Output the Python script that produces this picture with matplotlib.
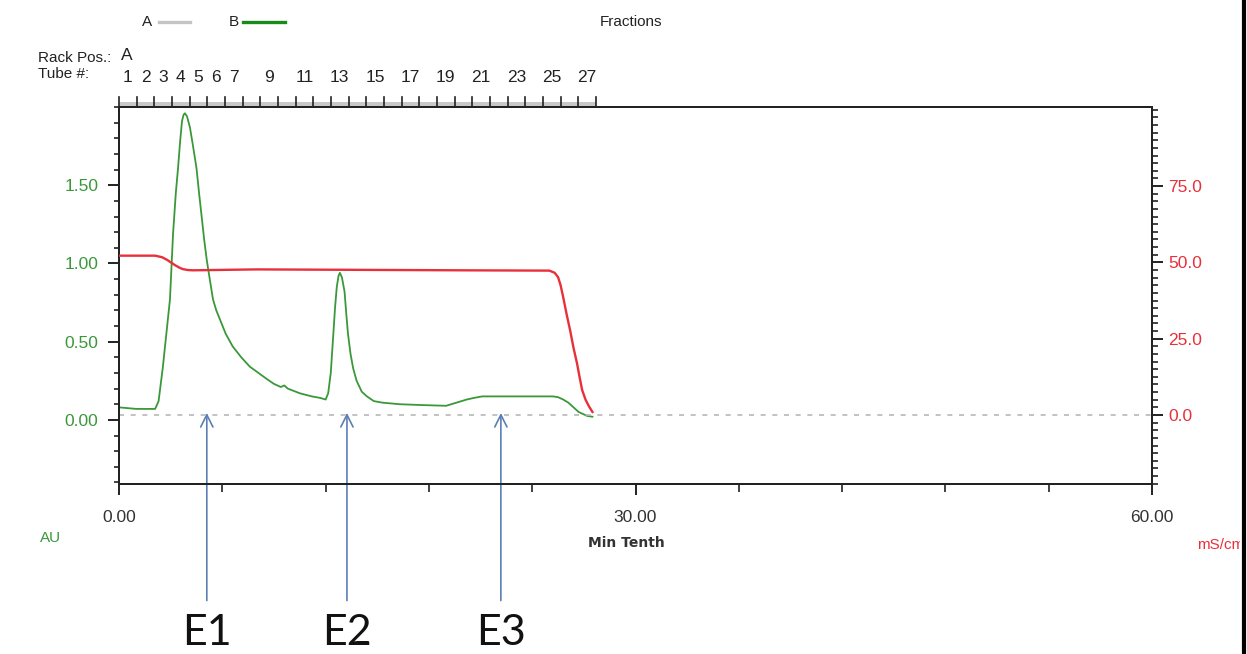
import numpy as np
import matplotlib
matplotlib.use('Agg')
import matplotlib.pyplot as plt
from matplotlib.lines import Line2D
from matplotlib.patches import Rectangle
from matplotlib.ticker import MultipleLocator, FixedLocator

# UV absorbance (AU) trace, time in Min Tenth
uv_time = [0.0, 1.0, 2.1, 2.3, 2.55, 2.75, 2.96, 3.14, 3.3, 3.43, 3.55, 3.66, 3.75,
           3.83, 3.95, 4.12, 4.3, 4.5, 4.65, 4.8, 4.95, 5.1, 5.3, 5.46, 5.65, 5.87,
           6.2, 6.6, 7.1, 7.6, 8.1, 8.6, 9.0, 9.4, 9.6, 9.8, 10.5, 11.2, 11.7, 12.0,
           12.15, 12.3, 12.45, 12.55, 12.65, 12.75, 12.83, 12.95, 13.1, 13.2, 13.3,
           13.45, 13.6, 13.8, 14.1, 14.4, 14.8, 15.3, 16.3, 17.5, 19.0, 19.6, 20.2,
           20.6, 21.1, 23.0, 25.2, 25.5, 25.8, 26.1, 26.4, 26.7, 26.9, 27.2, 27.5]
uv_au = [0.08, 0.07, 0.07, 0.12, 0.34, 0.55, 0.77, 1.19, 1.45, 1.61, 1.78, 1.91, 1.95,
         1.96, 1.94, 1.87, 1.75, 1.61, 1.45, 1.30, 1.15, 1.02, 0.88, 0.77, 0.70, 0.64,
         0.55, 0.47, 0.40, 0.34, 0.30, 0.26, 0.23, 0.21, 0.22, 0.20, 0.17, 0.15, 0.14,
         0.13, 0.17, 0.30, 0.55, 0.72, 0.85, 0.92, 0.94, 0.91, 0.82, 0.68, 0.55,
         0.42, 0.33, 0.25, 0.18, 0.15, 0.12, 0.11, 0.10, 0.095, 0.09, 0.11, 0.13,
         0.14, 0.15, 0.15, 0.15, 0.145, 0.13, 0.11, 0.08, 0.05, 0.04, 0.025, 0.02]

# conductivity trace (mS/cm)
cond_time = [0.0, 2.1, 2.5, 2.8, 3.25, 3.5, 3.7, 4.0, 4.3, 8.0, 12.0, 16.0, 20.0,
             25.0, 25.3, 25.5, 25.65, 25.8, 26.0, 26.2, 26.4, 26.6, 26.75, 26.9,
             27.1, 27.3, 27.5]
cond_ms = [52.2, 52.2, 51.7, 50.8, 49.1, 48.3, 47.8, 47.5, 47.4, 47.7, 47.6, 47.5, 47.4,
           47.3, 46.6, 45.2, 42.5, 38.6, 33.0, 27.8, 22.0, 17.0, 12.5, 8.2,
           5.0, 2.8, 1.0]

tube_numbers = list(range(1, 28))
tube_labels_shown = [1, 2, 3, 4, 5, 6, 7, 9, 11, 13, 15, 17, 19, 21, 23, 25, 27]
tube_width = 1.026

peak_names = ['E1', 'E2', 'E3']
peak_times = [5.1, 13.24, 22.18]

W, H = 1247, 654
GREEN = '#3a983a'
RED = '#e8303a'
ARROW = '#5b7fb5'
DARK = '#222222'
FONT = ['Liberation Sans', 'DejaVu Sans']
FS = 12.5

plt.rcParams['font.family'] = FONT
fig = plt.figure(figsize=(W / 100, H / 100), dpi=100)


def fpos(x, y):
    return x / W, 1 - y / H


ax_l, ax_r, ax_t, ax_b = 119, 1152, 107, 484
ax = fig.add_axes([ax_l / W, 1 - ax_b / H, (ax_r - ax_l) / W, (ax_b - ax_t) / H])
ax2 = ax.twinx()

ax.set_xlim(0, 60)
ax.set_ylim(-0.41, 2.0)
ax2.set_ylim(-22.6, 100.9)

ax.plot(uv_time, uv_au, color=GREEN, lw=1.3, zorder=3)
ax2.plot(cond_time, cond_ms, color=RED, lw=1.7, zorder=3)
ax2.axhline(0, color='#b8b8b8', lw=1.2, dashes=(3, 4), zorder=1)

for a in (ax, ax2):
    for s in a.spines.values():
        s.set_color(DARK)
        s.set_linewidth(1.4)

# left axis
ax.yaxis.set_major_locator(FixedLocator([0, 0.5, 1.0, 1.5]))
ax.yaxis.set_minor_locator(MultipleLocator(0.1))
ax.set_yticklabels(['0.00', '0.50', '1.00', '1.50'])
ax.tick_params(axis='y', which='major', length=8, width=1.4, color=DARK,
               labelcolor=GREEN, labelsize=FS, pad=7)
ax.tick_params(axis='y', which='minor', length=3.6, width=1.2, color=DARK)

# right axis
ax2.yaxis.set_major_locator(FixedLocator([0, 25, 50, 75]))
ax2.yaxis.set_minor_locator(MultipleLocator(2.5))
ax2.set_yticklabels(['0.0', '25.0', '50.0', '75.0'])
ax2.tick_params(axis='y', which='major', length=8, width=1.4, color=DARK,
                labelcolor=RED, labelsize=FS, pad=3.5)
ax2.tick_params(axis='y', which='minor', length=4.3, width=1.2, color=DARK)

# bottom axis
ax.xaxis.set_major_locator(FixedLocator([0, 30, 60]))
ax.xaxis.set_minor_locator(MultipleLocator(6))
ax.set_xticklabels(['0.00', '30.00', '60.00'])
ax.tick_params(axis='x', which='major', length=8, width=1.4, color=DARK,
               labelcolor='#333333', labelsize=FS, pad=11)
ax.tick_params(axis='x', which='minor', length=5.8, width=1.2, color=DARK)

# fraction strip above the plot
trans = ax.get_xaxis_transform()
strip_end = tube_width * len(tube_numbers)
h = ax_b - ax_t
ax.add_patch(Rectangle((0, 1.0), strip_end, 5 / h, transform=trans,
                       facecolor='#c8c8c8', edgecolor='none', clip_on=False))
for n in tube_numbers + [tube_numbers[-1] + 1]:
    x = (n - 1) * tube_width
    ax.add_line(Line2D([x, x], [1.0, 1 + 10 / h], transform=trans, color=DARK,
                       lw=1.2, clip_on=False))
ax.add_line(Line2D([0, strip_end], [1.0, 1.0], transform=trans, color=DARK,
                   lw=1.2, clip_on=False))
for n in tube_labels_shown:
    x = (n - 0.5) * tube_width
    ax.text(x, 1 + 29 / h, str(n), transform=trans, ha='center', va='center',
            fontsize=FS, color=DARK)
ax.text(0.1, 1 + 52 / h, 'A', transform=trans, ha='left', va='center',
        fontsize=FS, color=DARK)

# header texts
fig.text(*fpos(38, 58), 'Rack Pos.:', ha='left', va='center', fontsize=11, color=DARK)
fig.text(*fpos(38, 74), 'Tube #:', ha='left', va='center', fontsize=11, color=DARK)
fig.text(*fpos(600, 22), 'Fractions', ha='left', va='center', fontsize=11, color=DARK)
fig.text(*fpos(142, 22), 'A', ha='left', va='center', fontsize=11, color=DARK)
fig.add_artist(Line2D([159 / W, 190 / W], [1 - 22 / H] * 2, color='#c4c4c4', lw=2.4))
fig.text(*fpos(229, 22), 'B', ha='left', va='center', fontsize=11, color=DARK)
fig.add_artist(Line2D([243 / W, 285 / W], [1 - 22 / H] * 2, color='#1a8a1a', lw=2.4))

# axis unit labels
fig.text(*fpos(40, 538), 'AU', ha='left', va='center', fontsize=11, color=GREEN)
fig.text(*fpos(626, 543), 'Min Tenth', ha='center', va='center', fontsize=10,
         family='DejaVu Sans', fontweight='bold', color='#333333')
t = fig.text(*fpos(1197, 545), 'mS/cm', ha='left', va='center', fontsize=11,
             color=RED)
t.set_clip_path(Rectangle((0, 0), 1240 / W, 1, transform=fig.transFigure))

# peak arrows
to_au = lambda y: (420 - y) / 156.7
for name, x in zip(peak_names, peak_times):
    ax.annotate('', xy=(x, to_au(413)), xytext=(x, to_au(601)),
                arrowprops=dict(arrowstyle='->', color=ARROW, lw=1.2,
                                shrinkA=0, shrinkB=0, mutation_scale=22),
                annotation_clip=False)
    ax.text(x, to_au(634), name, ha='center', va='center', fontsize=31,
            family=['Lato', 'DejaVu Sans'], color='#111111', clip_on=False)

# right border of the screenshot
fig.add_artist(Line2D([1244 / W] * 2, [0, 1], color='black', lw=3))

fig.savefig('out.png', dpi=100)
